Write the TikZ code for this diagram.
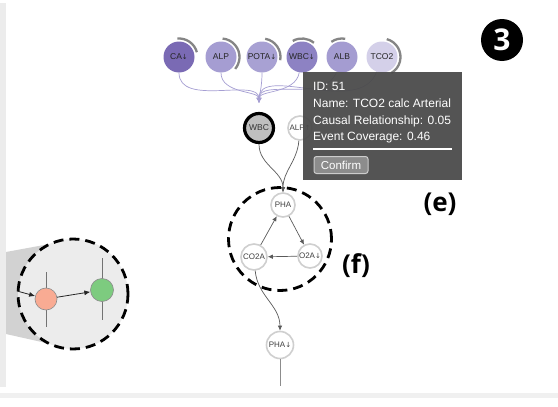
\documentclass[tikz,border=0pt]{standalone}
\usepackage{fontspec}
\setmainfont{Liberation Sans}
\newfontfamily\djv{DejaVu Sans}
\newfontfamily\labfont{Open Sans}
\usetikzlibrary{arrows.meta}
\definecolor{pCA}{HTML}{7A6AB4}
\definecolor{pALP}{HTML}{A59DD2}
\definecolor{pPOTA}{HTML}{A8A1D3}
\definecolor{pWBC}{HTML}{8D82C3}
\definecolor{pALB}{HTML}{A49CD1}
\definecolor{pTCO}{HTML}{D4D0E9}
\definecolor{purpedge}{HTML}{A69FD3}
\definecolor{arcgrey}{HTML}{858585}
\definecolor{nodering}{HTML}{CFCFCF}
\definecolor{edgegrey}{HTML}{5A5A5A}
\definecolor{tipbg}{HTML}{4A4A4A}
\definecolor{btnbg}{HTML}{8C8C8C}
\definecolor{panelgrey}{HTML}{ECECEC}
\definecolor{conegrey}{HTML}{D2D2D2}
\definecolor{pinkfill}{HTML}{F9AB93}
\definecolor{greenfill}{HTML}{7DCB7F}
\newcommand{\arrdn}{{\djv\fontsize{7}{8}\selectfont\char"2193}}
\newcommand{\arrup}{{\djv\fontsize{7}{8}\selectfont\char"2191}}
\begin{document}
\begin{tikzpicture}[x=1pt,y=1pt,
  topnode/.style={circle, inner sep=0pt, minimum size=31pt, font=\fontsize{8.5}{9}\selectfont, text=black!85},
  ringarc/.style={draw=arcgrey, line width=2.3pt},
  plainnode/.style={circle, draw=nodering, line width=1.6pt, fill=white, inner sep=0pt, minimum size=24pt, font=\fontsize{8}{9}\selectfont, text=black!75},
  pedge/.style={draw=purpedge, line width=0.7pt},
  gedge/.style={draw=edgegrey, line width=0.7pt},
  ptip/.style={-{Latex[length=5pt,width=5pt]}},
  gtip/.style={-{Latex[length=5pt,width=4.5pt]}},
  dashring/.style={draw=black, line width=2.8pt, dash pattern=on 10pt off 6pt},
  tiptext/.style={anchor=west, text=white, font=\fontsize{12}{14}\selectfont, inner sep=0pt},
  biglabel/.style={font=\labfont\bfseries\fontsize{26}{28}\selectfont, inner sep=0pt},
]
\useasboundingbox (0,0) rectangle (558,-407);
\fill[white] (0,0) rectangle (558,-407);
% side panel and bottom band
\fill[panelgrey] (0,-3) rectangle (6,-387);
\fill[panelgrey!80!white] (0,-393) rectangle (558,-398);
% magnifier
\fill[conegrey] (6,-252) -- (55,-243) -- (55,-345) -- (6,-334) -- cycle;
\node[circle, fill=panelgrey, dashring, minimum size=110pt, inner sep=0pt] (mag) at (73,-294) {};
\draw[draw=black!55, line width=0.8pt] (46,-272) -- (46,-327);
\draw[draw=black!55, line width=0.8pt] (102,-258) -- (102,-320);
\node[circle, fill=pinkfill, draw=black!45, line width=0.6pt, minimum size=22pt, inner sep=0pt] (pink) at (46,-299) {};
\node[circle, fill=greenfill, draw=black!45, line width=0.6pt, minimum size=23pt, inner sep=0pt] (green) at (102,-290) {};
\coordinate (magin) at (17,-291);
\draw[black!85, line width=0.8pt, -{Latex[length=6pt,width=5pt]}] (magin) -- (pink);
\draw[black!85, line width=0.8pt, -{Latex[length=6pt,width=5pt]}] (pink) -- (green);

% top row
\node[topnode, fill=pCA] (ca) at (179,-57) {CA\arrdn};
\node[topnode, fill=pALP] (alp) at (221,-57) {ALP};
\node[topnode, fill=pPOTA] (pota) at (262,-57) {POTA\arrdn};
\node[topnode, fill=pWBC] (wbcd) at (302,-57) {WBC\arrdn};
\node[topnode, fill=pALB] (alb) at (342,-57) {ALB};
\node[topnode, fill=pTCO] (tco) at (382,-57) {TCO2};
\draw[ringarc] ([shift={(95:18.5pt)}]ca.center) arc[start angle=95, end angle=15, radius=18.5pt];
\draw[ringarc] ([shift={(85:18.5pt)}]alp.center) arc[start angle=85, end angle=-40, radius=18.5pt];
\draw[ringarc] ([shift={(80:18.5pt)}]pota.center) arc[start angle=80, end angle=-10, radius=18.5pt];
\draw[ringarc] ([shift={(120:18.5pt)}]wbcd.center) arc[start angle=120, end angle=50, radius=18.5pt];
\draw[ringarc] ([shift={(125:18.5pt)}]alb.center) arc[start angle=125, end angle=80, radius=18.5pt];
\draw[ringarc] ([shift={(75:18.5pt)}]tco.center) arc[start angle=75, end angle=-60, radius=18.5pt];

% middle nodes
\node[circle, draw=black, line width=3.2pt, fill=black!25, minimum size=29pt, inner sep=0pt, font=\fontsize{8.5}{9}\selectfont, text=black!80] (wbc) at (259,-128) {WBC};
\node[plainnode] (alpu) at (300,-128) {ALP\arrup};

\draw[pedge, ptip, shorten >=9pt] (ca) to[out=-90, in=90] (wbc);
\draw[pedge, ptip, shorten >=9pt] (alp) to[out=-90, in=90] (wbc);
\draw[pedge, ptip, shorten >=9pt] (pota) to[out=-90, in=90] (wbc);
\draw[pedge, ptip, shorten >=9pt] (wbcd) to[out=-100, in=90] (wbc);
\draw[pedge, ptip, shorten >=9pt] (alb) to[out=-110, in=90] (wbc);
\draw[pedge, ptip, shorten >=9pt] (tco) to[out=-110, in=90] (wbc);

% cluster
\node[plainnode] (pha) at (283,-205) {PHA};
\node[plainnode, minimum size=26pt] (co2a) at (254,-257) {CO2A};
\node[plainnode] (o2a) at (310,-256) {O2A\arrdn};
\node[plainnode, minimum size=27pt] (phad) at (280,-345) {PHA\arrdn};

\draw[gedge, gtip] (wbc) to[out=-90, in=90] (pha);
\draw[gedge, gtip] (alpu) to[out=-95, in=90] (pha);
\draw[gedge, gtip] (pha) -- (o2a);
\draw[gedge, gtip] (o2a) -- (co2a);
\draw[gedge, gtip] (co2a) -- (pha);
\draw[gedge, gtip] (co2a) to[out=-85, in=90] (phad);
\coordinate (tail) at (280,-386);
\draw[draw=black!45, line width=0.8pt] (phad) -- (tail);

\node[circle, dashring, minimum size=103pt, inner sep=0pt] (ringf) at (280,-239) {};

% tooltip
\node[fill=tipbg, fill opacity=0.94, minimum width=159pt, minimum height=108pt, anchor=north west, inner sep=0pt] (tip) at (303,-72) {};
\node[tiptext] (tid) at (313,-86) {ID: 51};
\node[tiptext] (tname) at (313,-103) {Name: TCO2 calc Arterial};
\node[tiptext] (tcaus) at (313,-121) {Causal Relationship: 0.05};
\node[tiptext] (tcov) at (313,-138) {Event Coverage: 0.46};
\draw[white, line width=1.3pt] (313,-149) -- (452,-149);
\node[draw=white!80!black, fill=btnbg, rounded corners=2.5pt, line width=1pt, minimum width=54pt, minimum height=17pt, anchor=north west, text=white, font=\fontsize{11.5}{12}\selectfont, inner sep=0pt] (btn) at (313.5,-156) {Confirm};

% labels
\node[biglabel] (labe) at (440,-204) {(e)};
\node[biglabel] (labf) at (356,-266) {(f)};
\node[circle, fill=black, minimum size=42pt, inner sep=0pt, text=white, font=\labfont\bfseries\fontsize{30}{30}\selectfont] (badge) at (502,-40) {3};
\end{tikzpicture}
\end{document}
